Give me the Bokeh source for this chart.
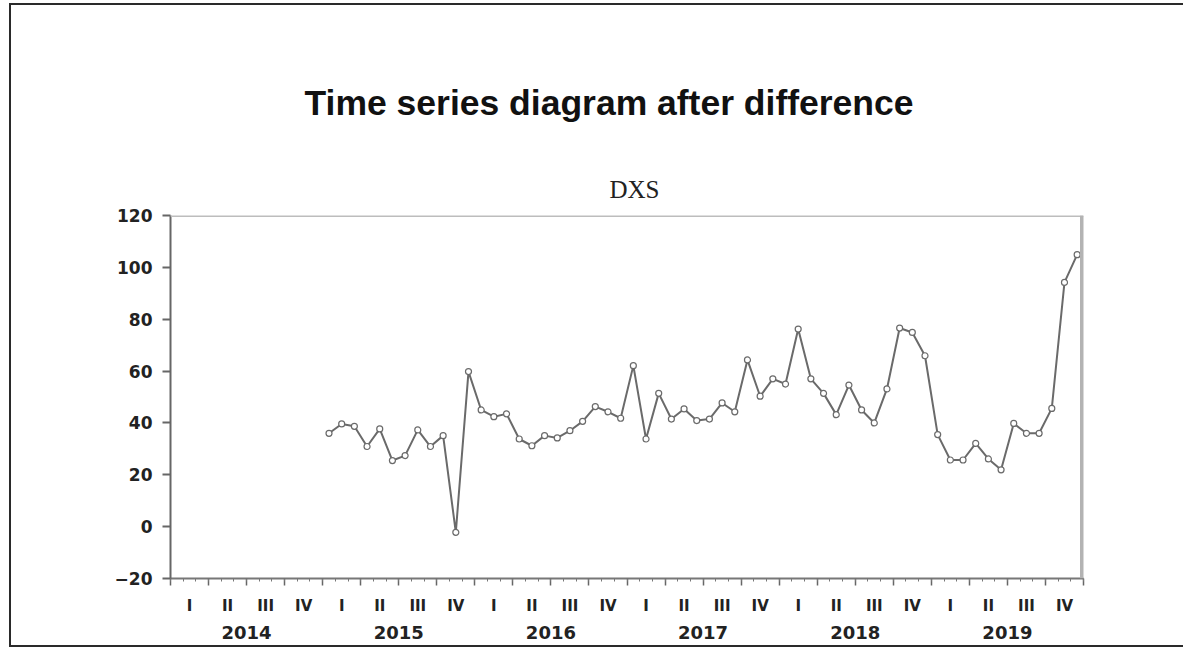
from bokeh.plotting import figure
from bokeh.models import LinearAxis, FixedTicker, Span, Title, Range1d
from bokeh.embed import file_html
from bokeh.resources import INLINE

# ---- data ----
years = ["2014", "2015", "2016", "2017", "2018", "2019"]
quarters = ["I", "II", "III", "IV"]
first_obs_month = 12  # first observation: 2015M01 (months counted from 2014M01)
dxs = [36.0, 39.6, 38.7, 30.9, 37.7, 25.5, 27.4, 37.3, 30.9, 35.1,
       -2.2, 59.8, 45.0, 42.4, 43.5, 33.8, 31.2, 35.1, 34.2, 37.0,
       40.6, 46.3, 44.3, 41.8, 62.1, 33.8, 51.4, 41.5, 45.4, 40.9,
       41.5, 47.7, 44.3, 64.3, 50.3, 57.0, 55.0, 76.2, 57.0, 51.4,
       43.2, 54.6, 45.0, 40.0, 53.1, 76.6, 74.9, 65.9, 35.5, 25.7,
       25.7, 32.1, 26.1, 21.9, 39.8, 36.0, 36.0, 45.6, 94.2, 104.9]
y_ticks = [-20, 0, 20, 40, 60, 80, 100, 120]

# x in half-month units so every position is an integer
n_months = len(years) * 12
xs = [2 * (first_obs_month + i) + 1 for i in range(len(dxs))]

p = figure(width=1172, height=640,
           x_range=Range1d(0, 2 * n_months), y_range=Range1d(y_ticks[0], y_ticks[-1]),
           output_backend="svg", toolbar_location=None,
           min_border_left=159, min_border_right=102,
           min_border_top=210, min_border_bottom=71)
p.styles = {"margin-left": "9px", "margin-top": "3px", "box-sizing": "content-box",
            "border-left": "2px solid #2a2a2a", "border-top": "2px solid #2a2a2a",
            "border-bottom": "2px solid #2a2a2a"}
p.grid.visible = False
p.outline_line_color = None
p.background_fill_color = "white"
p.border_fill_color = "white"

# titles (p.title is outermost; the added Title sits next to the frame)
p.title.text = "Time series diagram after difference"
p.title.align = "left"
p.title.offset = 134
p.title.text_font = "Liberation Sans"
p.title.text_font_size = "35.5px"
p.title.text_font_style = "bold"
p.title.text_color = "#111111"
p.title.standoff = 75
p.add_layout(Title(text="DXS", align="left", offset=439,
                   text_font="Liberation Serif", text_font_size="25px",
                   text_font_style="normal", text_color="#222222",
                   standoff=26), "above")

# y axis
ya = p.yaxis[0]
ya.ticker = FixedTicker(ticks=y_ticks)
ya.major_tick_in = 0
ya.major_tick_out = 8
ya.minor_tick_out = 0
ya.minor_tick_in = 0
ya.axis_line_color = "#666666"
ya.axis_line_width = 2
ya.major_tick_line_color = "#666666"
ya.major_tick_line_width = 2
ya.major_label_standoff = 10
ya.major_label_text_font = "DejaVu Sans"
ya.major_label_text_font_style = "bold"
ya.major_label_text_font_size = "17px"
ya.major_label_text_color = "#222222"

# x axis: ticks only (quarter boundaries + months)
xa = p.xaxis[0]
xa.ticker = FixedTicker(ticks=list(range(0, 2 * n_months + 1, 6)),
                        minor_ticks=list(range(0, 2 * n_months + 1, 2)))
xa.major_tick_in = 0
xa.major_tick_out = 7
xa.minor_tick_in = 0
xa.minor_tick_out = 3
xa.axis_line_color = "#777777"
xa.axis_line_width = 2
xa.major_tick_line_color = "#666666"
xa.major_tick_line_width = 1.5
xa.minor_tick_line_color = "#777777"
xa.major_label_text_font_size = "1px"
xa.major_label_text_alpha = 0
xa.major_label_standoff = 0

# quarter labels
q_ticks = [6 * k + 3 for k in range(len(years) * 4)]
qa = LinearAxis(ticker=FixedTicker(ticks=q_ticks, minor_ticks=[]),
                major_label_overrides={t: quarters[k % 4] for k, t in enumerate(q_ticks)},
                axis_line_color=None, major_tick_line_color=None, minor_tick_line_color=None,
                major_label_standoff=5, major_label_text_font="DejaVu Sans",
                major_label_text_font_style="bold", major_label_text_font_size="15px",
                major_label_text_color="#222222")
p.add_layout(qa, "below")

# year labels
yr_ticks = [24 * k + 12 for k in range(len(years))]
yra = LinearAxis(ticker=FixedTicker(ticks=yr_ticks, minor_ticks=[]),
                 major_label_overrides={t: years[k] for k, t in enumerate(yr_ticks)},
                 axis_line_color=None, major_tick_line_color=None, minor_tick_line_color=None,
                 major_label_standoff=2, major_label_text_font="DejaVu Sans",
                 major_label_text_font_style="bold", major_label_text_font_size="18px",
                 major_label_text_color="#222222")
p.add_layout(yra, "below")

# frame top and right edges (grey)
p.add_layout(Span(location=y_ticks[-1], dimension="width", line_color="#bdbdbd", line_width=3))
p.add_layout(Span(location=2 * n_months, dimension="height", line_color="#b3b3b3", line_width=7))

# data
p.line(xs, dxs, line_color="#6a6a6a", line_width=2)
p.scatter(xs, dxs, marker="circle", size=6, fill_color="white",
          line_color="#6a6a6a", line_width=1.2)

open("out.html", "w").write(file_html(p, INLINE))
